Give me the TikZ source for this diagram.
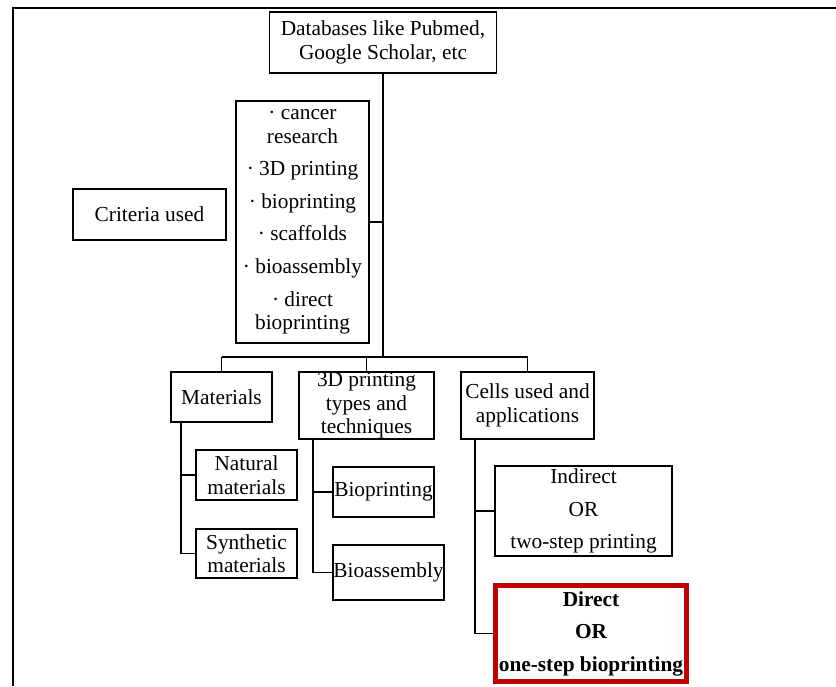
\documentclass[tikz,border=0pt]{standalone}
\usepackage{fontspec}
\setmainfont{Liberation Serif}
\definecolor{boxred}{HTML}{C00000}
\begin{document}
\begin{tikzpicture}[x=0.75pt,y=-0.75pt,
  sz/.style 2 args={minimum width=#1*0.75pt, minimum height=#2*0.75pt},
  box/.style={draw, line width=1.1pt, inner sep=0pt, align=center,
    font=\fontsize{16}{17.6}\selectfont},
  wide/.style={font=\fontsize{16}{24.4}\selectfont},
  redbox/.style={draw=boxred, line width=3.8pt, inner sep=0pt, align=center,
    font=\bfseries\fontsize{16}{24.4}\selectfont},
  conn/.style={line width=1.1pt},
  frame/.style={line width=1.6pt}]
\useasboundingbox (0,0) rectangle (836,686);
% outer frame
\draw[frame] (836,8) -- (13,8) -- (13,686);
% nodes
\node[box, sz={227}{61}] (top) at (383,42.5) {Databases like Pubmed,\\Google Scholar, etc};
\node[box, sz={133}{242}] (list) at (302.5,222) {\textperiodcentered{} cancer\\research\\[6.8pt]
  \textperiodcentered{} 3D printing\\[6.8pt]\textperiodcentered{} bioprinting\\[6.8pt]
  \textperiodcentered{} scaffolds\\[6.8pt]\textperiodcentered{} bioassembly\\[6.8pt]
  \textperiodcentered{} direct\\bioprinting};
\node[box, sz={153}{51}] (crit) at (149.5,214.5) {Criteria used};
\node[box, sz={101}{50}] (mat) at (221.5,397) {Materials};
\node[box, sz={135}{67}] (print) at (366.5,405.5) {3D printing\\types and\\techniques};
\node[box, sz={133}{67}] (cells) at (527.5,405.5) {Cells used and\\applications};
\node[box, sz={101}{50}] (nat) at (246.5,475) {Natural\\materials};
\node[box, sz={101}{49}] (syn) at (246.5,553.5) {Synthetic\\materials};
\node[box, sz={101}{50}] (biop) at (383.5,492) {Bioprinting};
\node[box, sz={111}{55}] (bioa) at (388.5,572.5) {Bioassembly};
\node[box, wide, sz={177}{90}] (ind) at (583.5,511) {Indirect\\OR\\two-step printing};
\node[redbox, sz={191}{96}] (dir) at (591,633.5) {Direct\\OR\\one-step bioprinting};
% connectors
\coordinate (bus) at (top.south |- 0,357);
\draw[conn] (top.south) -- (bus);
\draw[conn] (list.east) -- (list.east -| top.south);
\draw[conn] (mat.north |- bus) -- (cells.north |- bus);
\draw[conn] (mat.north |- bus) -- (mat.north);
\draw[conn] (print.north |- bus) -- (print.north);
\draw[conn] (cells.north |- bus) -- (cells.north);
\coordinate (mv) at (181,422);
\draw[conn] (mv) |- (nat.west);
\draw[conn] (mv) |- (syn.west);
\coordinate (pv) at (313,439);
\draw[conn] (pv) |- (biop.west);
\draw[conn] (pv) |- (bioa.west);
\coordinate (cv) at (475,439);
\draw[conn] (cv) |- (ind.west);
\draw[conn] (cv) |- (dir.west);
\end{tikzpicture}
\end{document}
